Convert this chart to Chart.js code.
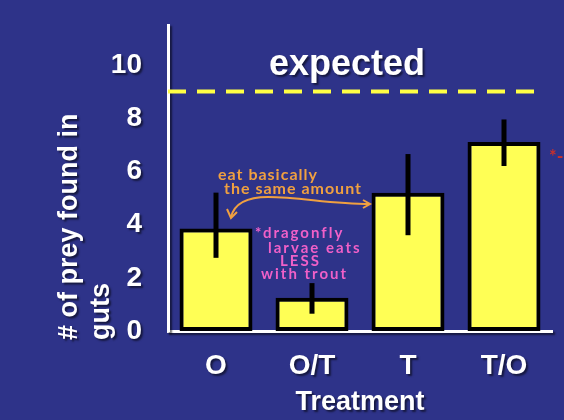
<!DOCTYPE html>
<html>
<head>
<meta charset="utf-8">
<script src="https://cdn.jsdelivr.net/npm/chart.js@4/dist/chart.umd.min.js"></script>
<style>
  html, body { margin: 0; padding: 0; background: #2e3389; }
  #wrap { width: 564px; height: 420px; }
</style>
</head>
<body>
<div id="wrap"><canvas id="myChart"></canvas></div>
<script>
// values
const categories = ['O', 'O/T', 'T', 'T/O'];
const meanPrey = [3.85, 1.25, 5.2, 7.1];
const errHigh = [5.2, 1.8, 6.65, 7.95];
const errLow = [2.75, 0.65, 3.6, 6.2];
const expectedValue = 9;
const yTicks = [0, 2, 4, 6, 8, 10];

const boldFont = "'Liberation Sans', Arial, sans-serif";
const handFont = "Lato, 'Open Sans', sans-serif";

function setShadow(ctx) {
    ctx.shadowColor = 'rgba(0,0,0,0.55)';
    ctx.shadowOffsetX = 2;
    ctx.shadowOffsetY = 2;
    ctx.shadowBlur = 2;
}

// shadow under the axis text like the slide
const shadowPlugin = {
    id: 'shadowPlugin',
    beforeDraw(chart) {
        chart.ctx.save();
        setShadow(chart.ctx);
    },
    beforeDatasetsDraw(chart) {
        chart.ctx.restore();
    }
};

// error bars, dashed expected line and the notes written on the slide
const extrasPlugin = {
    id: 'extrasPlugin',
    afterDatasetsDraw(chart) {
        const ctx = chart.ctx;
        const y = chart.scales.y;
        const meta = chart.getDatasetMeta(0);
        const area = chart.chartArea;

        ctx.save();
        ctx.strokeStyle = '#000';
        ctx.lineWidth = 5;
        ctx.lineCap = 'butt';
        meta.data.forEach((bar, i) => {
            ctx.beginPath();
            ctx.moveTo(bar.x, y.getPixelForValue(errHigh[i]));
            ctx.lineTo(bar.x, y.getPixelForValue(errLow[i]));
            ctx.stroke();
        });

        // expected line
        const ey = y.getPixelForValue(expectedValue);
        ctx.strokeStyle = '#ffff44';
        ctx.lineWidth = 4;
        ctx.setLineDash([18, 11]);
        ctx.beginPath();
        ctx.moveTo(area.left, ey);
        ctx.lineTo(area.right - 15, ey);
        ctx.stroke();
        ctx.setLineDash([]);

        // titles
        setShadow(ctx);
        ctx.fillStyle = '#fff';
        ctx.font = 'bold 36px ' + boldFont;
        ctx.textAlign = 'center';
        ctx.textBaseline = 'alphabetic';
        ctx.fillText('expected', 347, 75);

        ctx.save();
        ctx.translate(0, 340);
        ctx.rotate(-Math.PI / 2);
        ctx.font = 'bold 27px ' + boldFont;
        ctx.textAlign = 'left';
        ctx.textBaseline = 'middle';
        ctx.fillText('# of prey found in', 0, 70);
        ctx.fillText('guts', 0, 102);
        ctx.restore();
        ctx.shadowColor = 'transparent';

        // orange note + arrow
        ctx.fillStyle = '#f0a040';
        ctx.strokeStyle = '#f0a040';
        ctx.font = 'bold 16px ' + handFont;
        ctx.letterSpacing = '1px';
        ctx.textAlign = 'left';
        ctx.textBaseline = 'middle';
        ctx.fillText('eat basically', 218, 175);
        ctx.fillText('the same amount', 224, 189);
        ctx.lineWidth = 2;
        ctx.beginPath();
        ctx.moveTo(231, 217);
        ctx.quadraticCurveTo(236, 197, 268, 197);
        ctx.bezierCurveTo(300, 197, 330, 204, 370, 204);
        ctx.stroke();
        ctx.beginPath();
        ctx.moveTo(363, 200); ctx.lineTo(370, 204); ctx.lineTo(363, 208);
        ctx.moveTo(227, 209); ctx.lineTo(231, 218); ctx.lineTo(237, 212);
        ctx.stroke();

        // pink note
        ctx.fillStyle = '#f060c8';
        ctx.font = 'bold 15px ' + handFont;
        ctx.letterSpacing = '2px';
        ctx.fillText('*dragonfly', 255, 233);
        ctx.fillText('larvae eats', 268, 248);
        ctx.fillText('LESS', 280, 261);
        ctx.fillText('with trout', 261, 274);

        // red mark at the right edge
        ctx.fillStyle = '#c8302c';
        ctx.font = 'bold 18px ' + handFont;
        ctx.letterSpacing = '0px';
        ctx.fillText('*-', 549, 157);
        ctx.restore();
    }
};

const ctx = document.getElementById('myChart').getContext('2d');
const myChart = new Chart(ctx, {
    type: 'bar',
    data: {
        labels: categories,
        datasets: [{
            data: meanPrey,
            backgroundColor: '#ffff55',
            borderColor: '#000',
            borderWidth: 4,
            borderSkipped: false,
            categoryPercentage: 0.8,
            barPercentage: 0.95
        }]
    },
    options: {
        responsive: true,
        maintainAspectRatio: false,
        animation: false,
        layout: { padding: { top: 25, right: 12, left: 0, bottom: 0 } },
        plugins: {
            legend: { display: false },
            tooltip: { enabled: false }
        },
        scales: {
            x: {
                afterFit: scale => { scale.height = 89; },
                grid: { display: false, drawTicks: false },
                border: { display: true, color: '#fff', width: 3 },
                ticks: {
                    color: '#fff',
                    padding: 18,
                    font: { family: boldFont, size: 28, weight: 'bold' }
                },
                title: {
                    display: true,
                    text: 'Treatment',
                    color: '#fff',
                    padding: { top: 0, bottom: 1 },
                    font: { family: boldFont, size: 27, weight: 'bold' }
                }
            },
            y: {
                min: 0,
                max: 11.5,
                afterFit: scale => {
                    scale.width = 168;
                    // top tick (10) is well below the axis end, no extra room needed
                    scale.paddingTop = 0;
                    scale.paddingBottom = 0;
                },
                afterBuildTicks: scale => {
                    scale.ticks = yTicks.map(v => ({ value: v }));
                },
                grid: { display: false, drawTicks: false },
                border: { display: true, color: '#fff', width: 3 },
                ticks: {
                    color: '#fff',
                    padding: 26,
                    font: { family: boldFont, size: 28, weight: 'bold' }
                }
            }
        }
    },
    plugins: [shadowPlugin, extrasPlugin]
});
</script>
</body>
</html>
